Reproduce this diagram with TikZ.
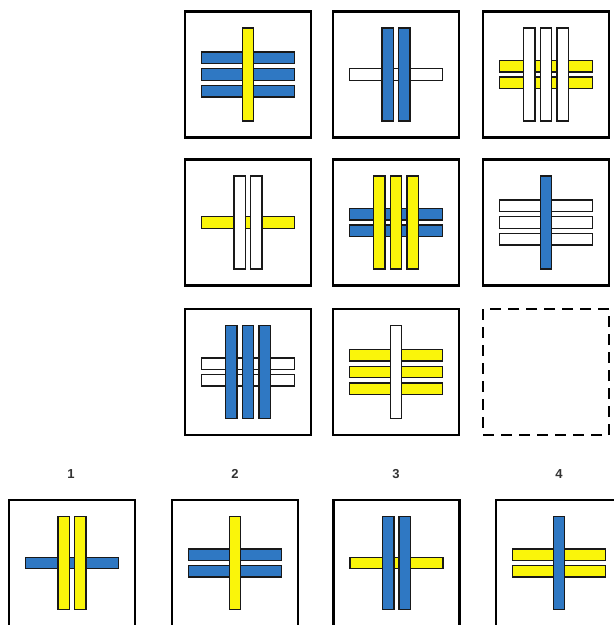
\documentclass[tikz,border=0pt]{standalone}
\usepackage{fontspec}
\setmainfont{Liberation Sans}

\definecolor{barblue}{RGB}{47,120,195}
\definecolor{baryellow}{RGB}{250,245,10}

\tikzset{
    frame/.style={line width=2.3pt, line join=miter},
    blank/.style={line width=2.3pt, dash pattern=on 11pt off 7pt},
    bar/.style={draw=black!90, line width=1.4pt},
    number/.style={font=\bfseries\fontsize{13}{15}\selectfont, text=black!80}
}

% One panel: centre x, centre y, count and colour of the upright bars,
% count and colour of the lying bars (upright ones lie on top)
\newcommand{\panel}[6]{%
    \begin{scope}[shift={(#1,#2)}]
        \draw[frame] (-63,-63) rectangle (63,63);
        \foreach \k in {1,...,#5}
            \draw[bar, fill=#6] (-46.5,{(\k-(#5+1)/2)*16.7-5.75}) rectangle (46.5,{(\k-(#5+1)/2)*16.7+5.75});
        \foreach \k in {1,...,#3}
            \draw[bar, fill=#4] ({(\k-(#3+1)/2)*16.7-5.75},-46.5) rectangle ({(\k-(#3+1)/2)*16.7+5.75},46.5);
    \end{scope}}

\begin{document}
\begin{tikzpicture}[x=1pt, y=-1pt]

    % Fix the page to the size of the sheet
    \useasboundingbox (0,0) rectangle (614,625);

    % The three by three grid
    \panel{248}{74.5}{1}{baryellow}{3}{barblue}
    \panel{396}{74.5}{2}{barblue}{1}{white}
    \panel{546}{74.5}{3}{white}{2}{baryellow}

    \panel{248}{222.5}{2}{white}{1}{baryellow}
    \panel{396}{222.5}{3}{baryellow}{2}{barblue}
    \panel{546}{222.5}{1}{barblue}{3}{white}

    \panel{248}{372}{3}{barblue}{2}{white}
    \panel{396}{372}{1}{white}{3}{baryellow}

    % The missing panel
    \draw[blank] (483,309) rectangle (609,435);

    % The four answers with their numbers
    \node[number] (num1) at (71,474) {1};
    \node[number] (num2) at (235,474) {2};
    \node[number] (num3) at (396,474) {3};
    \node[number] (num4) at (559,474) {4};

    \panel{72}{563}{2}{baryellow}{1}{barblue}
    \panel{235}{563}{1}{baryellow}{2}{barblue}
    \panel{396.5}{563}{2}{barblue}{1}{baryellow}
    \panel{559}{563}{1}{barblue}{2}{baryellow}

\end{tikzpicture}
\end{document}
